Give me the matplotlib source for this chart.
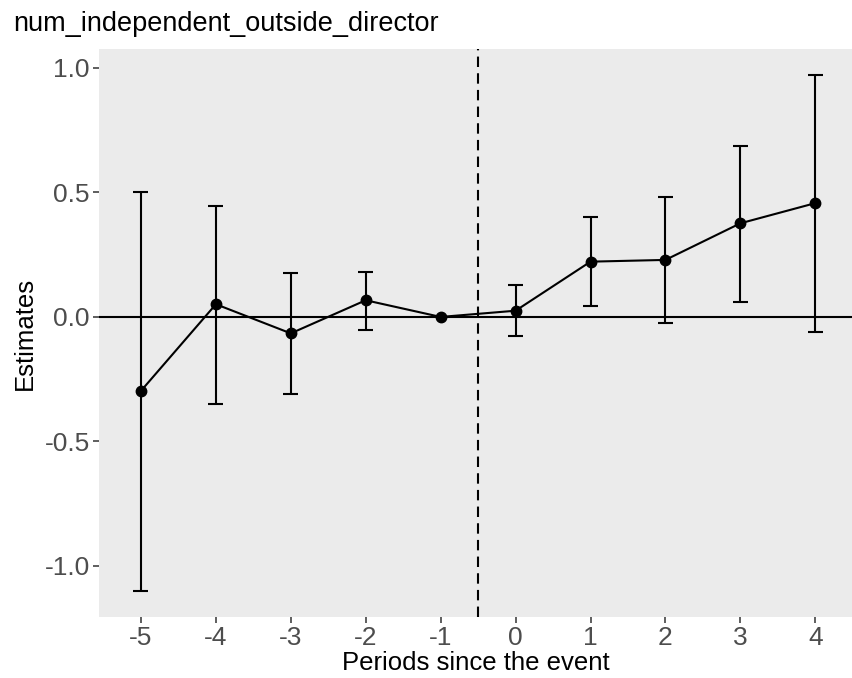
import matplotlib
matplotlib.use("Agg")
import matplotlib.pyplot as plt
import numpy as np

plt.rcParams['font.family'] = ['Liberation Sans', 'DejaVu Sans']

periods = [-5, -4, -3, -2, -1, 0, 1, 2, 3, 4]
estimates = [-0.297, 0.051, -0.066, 0.067, 0.0, 0.025, 0.222, 0.229, 0.376, 0.457]
ci_low = [-1.100, -0.348, -0.310, -0.052, 0.0, -0.076, 0.045, -0.025, 0.061, -0.059]
ci_high = [0.502, 0.447, 0.175, 0.182, 0.0, 0.127, 0.402, 0.482, 0.687, 0.972]
yticks = [-1.0, -0.5, 0.0, 0.5, 1.0]
ytick_labels = ["-1.0", "-0.5", "0.0", "0.5", "1.0"]
title = "num_independent_outside_director"

fig = plt.figure(figsize=(8.52, 6.78), dpi=100)
ax = fig.add_axes([99/852, (678-617)/678, 1 - 99/852, (617-49)/678])
ax.set_facecolor('#EBEBEB')
for s in ax.spines.values():
    s.set_visible(False)

ax.axhline(0, color='black', lw=1.5, zorder=1)
ax.axvline(-0.5, color='black', lw=1.5, ls=(0, (5, 3)), zorder=1)

x = np.array(periods, dtype=float)
lo = np.array(ci_low)
hi = np.array(ci_high)
mask = hi > lo
ax.vlines(x[mask], lo[mask], hi[mask], color='black', lw=1.5, zorder=2)
half = 0.1
ax.hlines(lo[mask], x[mask] - half, x[mask] + half, color='black', lw=1.5, zorder=2)
ax.hlines(hi[mask], x[mask] - half, x[mask] + half, color='black', lw=1.5, zorder=2)
ax.plot(x, estimates, color='black', lw=1.5, zorder=3)
ax.plot(x, estimates, 'o', color='black', ms=7.5, zorder=4)

ax.set_xlim(-5.56, 4.49)
ax.set_ylim(-1.205, 1.076)
ax.set_xticks(periods)
ax.set_xticklabels([str(p) for p in periods])
ax.set_yticks(yticks)
ax.set_yticklabels(ytick_labels)
ax.tick_params(axis='both', colors='#333333', labelcolor='#4D4D4D', labelsize=19, length=4, width=1.1, pad=2.5)

ax.set_xlabel("Periods since the event", fontsize=18.5, color='black', labelpad=1)
ax.set_ylabel("Estimates", fontsize=18.5, color='black', labelpad=6)
fig.text(13/852, 1 - 24/678, title, fontsize=19.5, color='black', ha='left', va='center')

fig.savefig("out.png", dpi=100)
